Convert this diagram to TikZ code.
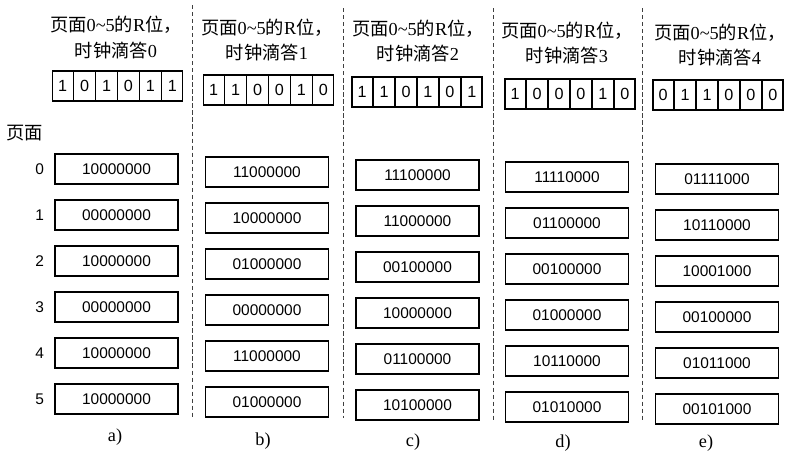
\documentclass[tikz,border=0pt]{standalone}
\usepackage{fontspec}
\setmainfont{Liberation Serif}
\newfontfamily\cjk{Noto Sans CJK SC}
\newfontfamily\numfont{Liberation Sans}
\usepackage{tikz}
\usetikzlibrary{positioning,shapes.multipart}
\newcommand{\rbits}[6]{\makebox[0.51cm]{#1}\nodepart{two}\makebox[0.51cm]{#2}%
  \nodepart{three}\makebox[0.51cm]{#3}\nodepart{four}\makebox[0.51cm]{#4}%
  \nodepart{five}\makebox[0.51cm]{#5}\nodepart{six}\makebox[0.51cm]{#6}}
\newcommand{\rhead}[1]{{\cjk 页面}0\textasciitilde5{\cjk 的}R{\cjk 位，}\\{\cjk 时钟滴答}#1}
\tikzset{
  ctrbox/.style={
    rectangle, draw, line width=1.1pt,
    minimum width=3.075cm, minimum height=0.75cm,
    inner sep=0pt, font=\numfont\fontsize{11}{13}\selectfont
  },
  bitrow/.style={
    rectangle split, rectangle split horizontal, rectangle split parts=6,
    draw, line width=1.1pt, minimum height=0.75cm,
    inner xsep=0pt, font=\numfont\fontsize{11.5}{13}\selectfont
  },
  hdrtext/.style={
    align=center, inner sep=0pt, font=\fontsize{13}{18}\selectfont
  },
  pagenum/.style={
    inner sep=0pt, font=\numfont\fontsize{11}{13}\selectfont
  },
  sublabel/.style={
    inner sep=0pt, font=\fontsize{13}{15}\selectfont
  },
  divider/.style={
    draw=black!75, line width=0.7pt, dash pattern=on 3pt off 2pt
  },
}

\begin{document}
\begin{tikzpicture}[node distance=0.3625cm]
  \useasboundingbox (0,0) rectangle (19.825,-11.4);
  % headers
  \node[hdrtext] (hdrA) at (2.9,-0.9375) {\rhead{0}};
  \node[hdrtext] (hdrB) at (6.675,-1.0) {\rhead{1}};
  \node[hdrtext] (hdrC) at (10.45,-1.025) {\rhead{2}};
  \node[hdrtext] (hdrD) at (14.175,-1.075) {\rhead{3}};
  \node[hdrtext] (hdrE) at (18.0,-1.125) {\rhead{4}};
  % R bits
  \node[bitrow] (bitsA) at (2.9375,-2.15) {\rbits{1}{0}{1}{0}{1}{1}};
  \node[bitrow] (bitsB) at (6.7125,-2.25) {\rbits{1}{1}{0}{0}{1}{0}};
  \node[bitrow] (bitsC) at (10.425,-2.3) {\rbits{1}{1}{0}{1}{0}{1}};
  \node[bitrow] (bitsD) at (14.25,-2.35) {\rbits{1}{0}{0}{0}{1}{0}};
  \node[bitrow] (bitsE) at (17.95,-2.375) {\rbits{0}{1}{1}{0}{0}{0}};
  % page label
  \node[hdrtext] (pglbl) at (0.625,-3.325) {\cjk 页面};
  % a)
  \node[ctrbox] at (2.9125,-4.225) (ca0) {10000000};
  \node[ctrbox, below=of ca0] (ca1) {00000000};
  \node[ctrbox, below=of ca1] (ca2) {10000000};
  \node[ctrbox, below=of ca2] (ca3) {00000000};
  \node[ctrbox, below=of ca3] (ca4) {10000000};
  \node[ctrbox, below=of ca4] (ca5) {10000000};
  \node[pagenum, left=0.25cm of ca0] (pg0) {0};
  \node[pagenum, left=0.25cm of ca1] (pg1) {1};
  \node[pagenum, left=0.25cm of ca2] (pg2) {2};
  \node[pagenum, left=0.25cm of ca3] (pg3) {3};
  \node[pagenum, left=0.25cm of ca4] (pg4) {4};
  \node[pagenum, left=0.25cm of ca5] (pg5) {5};
  % b)
  \node[ctrbox] at (6.675,-4.3) (cb0) {11000000};
  \node[ctrbox, below=of cb0] (cb1) {10000000};
  \node[ctrbox, below=of cb1] (cb2) {01000000};
  \node[ctrbox, below=of cb2] (cb3) {00000000};
  \node[ctrbox, below=of cb3] (cb4) {11000000};
  \node[ctrbox, below=of cb4] (cb5) {01000000};
  % c)
  \node[ctrbox] at (10.4375,-4.375) (cc0) {11100000};
  \node[ctrbox, below=of cc0] (cc1) {11000000};
  \node[ctrbox, below=of cc1] (cc2) {00100000};
  \node[ctrbox, below=of cc2] (cc3) {10000000};
  \node[ctrbox, below=of cc3] (cc4) {01100000};
  \node[ctrbox, below=of cc4] (cc5) {10100000};
  % d)
  \node[ctrbox] at (14.175,-4.425) (cd0) {11110000};
  \node[ctrbox, below=of cd0] (cd1) {01100000};
  \node[ctrbox, below=of cd1] (cd2) {00100000};
  \node[ctrbox, below=of cd2] (cd3) {01000000};
  \node[ctrbox, below=of cd3] (cd4) {10110000};
  \node[ctrbox, below=of cd4] (cd5) {01010000};
  % e)
  \node[ctrbox] at (17.925,-4.475) (ce0) {01111000};
  \node[ctrbox, below=of ce0] (ce1) {10110000};
  \node[ctrbox, below=of ce1] (ce2) {10001000};
  \node[ctrbox, below=of ce2] (ce3) {00100000};
  \node[ctrbox, below=of ce3] (ce4) {01011000};
  \node[ctrbox, below=of ce4] (ce5) {00101000};
  % sub labels
  \node[sublabel] at (2.875,-10.925) (lblA) {a)};
  \node[sublabel] at (6.575,-11.025) (lblB) {b)};
  \node[sublabel] at (10.325,-11.05) (lblC) {c)};
  \node[sublabel] at (14.075,-11.075) (lblD) {d)};
  \node[sublabel] at (17.65,-11.075) (lblE) {e)};
  % dividers
  \draw[divider] (4.8,-0.125) -- (4.8,-10.45);
  \draw[divider] (8.575,-0.2) -- (8.575,-10.45);
  \draw[divider] (12.325,-0.2) -- (12.325,-10.5);
  \draw[divider] (16.05,-0.2) -- (16.05,-10.55);
\end{tikzpicture}
\end{document}
